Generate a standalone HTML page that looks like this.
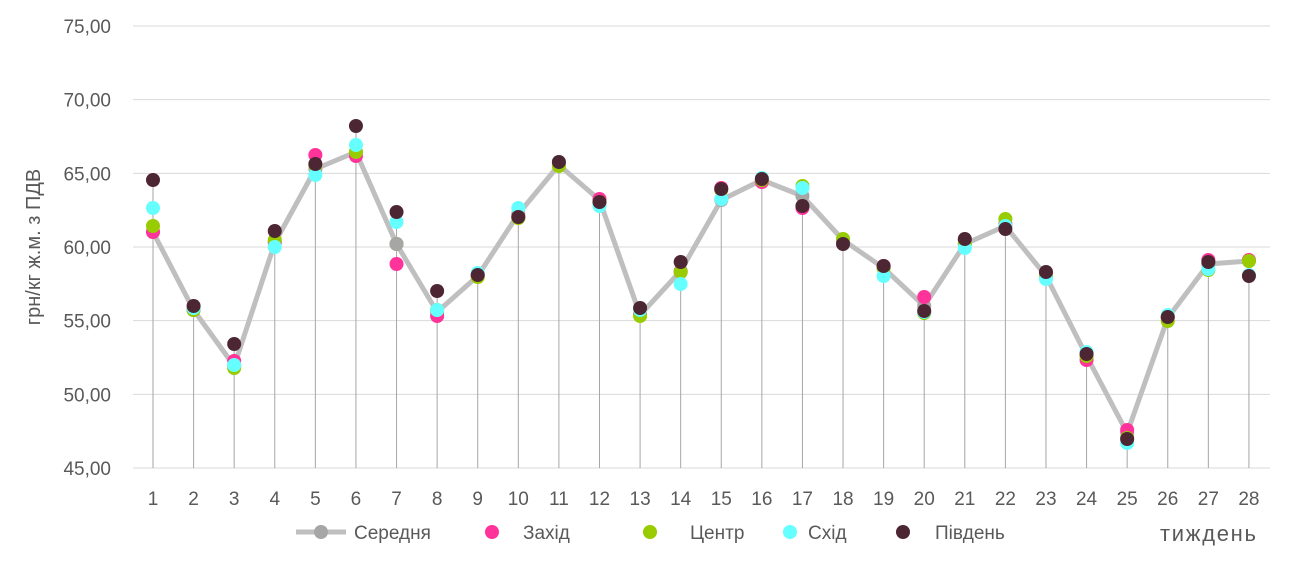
<!DOCTYPE html>
<html><head><meta charset="utf-8"><style>
html,body{margin:0;padding:0;background:#fff;}
svg{display:block;font-family:"Liberation Sans",sans-serif;}
</style></head><body>
<svg id="s" width="1306" height="562" xmlns="http://www.w3.org/2000/svg"></svg>
<script>
const s=document.getElementById('s');let h='';
const y0=26,dy=73.67;
for(let i=0;i<7;i++){const y=y0+i*dy;h+=`<line x1="133" x2="1270" y1="${y}" y2="${y}" stroke="#d9d9d9" stroke-width="1"/>`;
h+=`<text x="111" y="${y+7}" text-anchor="end" font-size="19" fill="#595959">${75-5*i},00</text>`;}
h+=`<text transform="translate(40,247) rotate(-90)" text-anchor="middle" font-size="20" fill="#595959">грн/кг ж.м. з ПДВ</text>`;
const X=i=>153+i*40.59;
const avg=[232,310,366,243,169,152,244,312,276,214,165,200,315,271,200,180,196,240,268,306,244,226,276,356,433,318,264,261];
const pink=[232,310,361,242,155,156,264,316,275,217,163,199,314,272,188,182,208,241,266,297,240,224,273,360,430,317,260,260];
const green=[226,310,368,240,165,152,244,310,277,218,166,202,316,272,190,180,186,239,268,313,244,219,276,356,438,321,270,261];
const cyan=[208,308,365,247,175,145,222,310,273,208,162,206,310,284,199,178,188,244,276,312,248,226,279,352,443,315,269,275];
const dark=[180,306,344,231,164,126,212,291,275,217,162,202,308,262,189,179,206,244,266,311,239,229,272,354,439,317,262,276];
for(let i=0;i<28;i++){const m=Math.min(avg[i],pink[i],green[i],cyan[i],dark[i]);
h+=`<line x1="${X(i)}" x2="${X(i)}" y1="${m}" y2="468" stroke="#a6a6a6" stroke-width="1"/>`;
h+=`<text x="${X(i)}" y="505" text-anchor="middle" font-size="19" fill="#595959">${i+1}</text>`;}
h+=`<polyline fill="none" stroke="#bfbfbf" stroke-width="5" stroke-linejoin="round" points="${avg.map((y,i)=>X(i)+','+y).join(' ')}"/>`;
const dots=(a,c)=>a.forEach((y,i)=>h+=`<circle cx="${X(i)}" cy="${y}" r="7" fill="${c}"/>`);
dots(avg,'#a6a6a6');dots(pink,'#ff3399');dots(green,'#99cc00');dots(cyan,'#66ffff');dots(dark,'#4d2633');
h+=`<circle cx="${X(6)}" cy="244" r="7" fill="#a6a6a6"/>`;
h+=`<line x1="296" x2="346" y1="532" y2="532" stroke="#bfbfbf" stroke-width="5"/><circle cx="321" cy="532" r="7" fill="#a6a6a6"/>`;
const lg=[[354,'Середня',null],[523,'Захід','#ff3399',492],[690,'Центр','#99cc00',650],[808,'Схід','#66ffff',790],[935,'Південь','#4d2633',903]];
lg.forEach(l=>{if(l[2])h+=`<circle cx="${l[3]}" cy="532" r="7" fill="${l[2]}"/>`;h+=`<text x="${l[0]}" y="539" font-size="19" fill="#595959">${l[1]}</text>`;});
h+=`<text x="1160" y="541" font-size="22" fill="#595959" textLength="96">тиждень</text>`;
s.innerHTML=h;
</script>
</body></html>
